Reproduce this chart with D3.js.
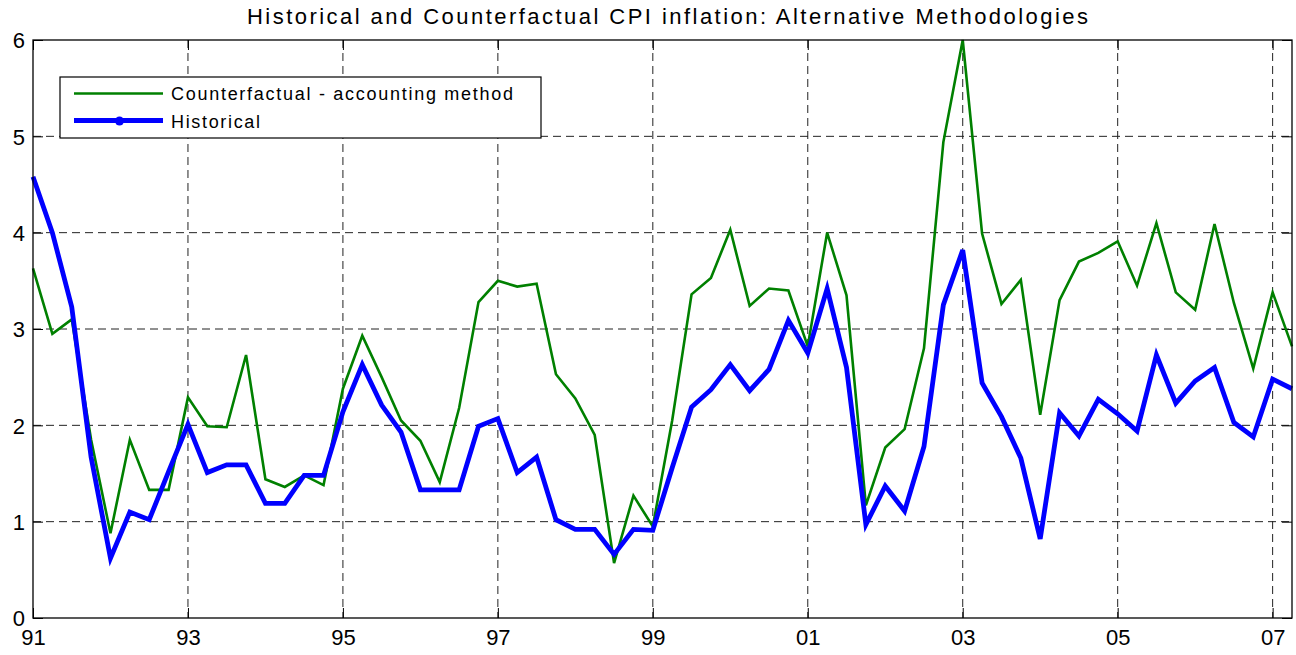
<!DOCTYPE html>
<html>
<head>
<meta charset="utf-8">
<script src="https://cdn.jsdelivr.net/npm/d3@7"></script>
<style>
  html, body { margin: 0; padding: 0; background: #fff; }
  svg { display: block; }
  text { font-family: "Liberation Sans", Arial, Helvetica, sans-serif; fill: #000; }
</style>
</head>
<body>
<svg id="chart" width="1296" height="655"></svg>
<script>
// Quarterly observations, 1991Q1 .. 2007Q2
const quarters = [
  "1991Q1","1991Q2","1991Q3","1991Q4",
  "1992Q1","1992Q2","1992Q3","1992Q4",
  "1993Q1","1993Q2","1993Q3","1993Q4",
  "1994Q1","1994Q2","1994Q3","1994Q4",
  "1995Q1","1995Q2","1995Q3","1995Q4",
  "1996Q1","1996Q2","1996Q3","1996Q4",
  "1997Q1","1997Q2","1997Q3","1997Q4",
  "1998Q1","1998Q2","1998Q3","1998Q4",
  "1999Q1","1999Q2","1999Q3","1999Q4",
  "2000Q1","2000Q2","2000Q3","2000Q4",
  "2001Q1","2001Q2","2001Q3","2001Q4",
  "2002Q1","2002Q2","2002Q3","2002Q4",
  "2003Q1","2003Q2","2003Q3","2003Q4",
  "2004Q1","2004Q2","2004Q3","2004Q4",
  "2005Q1","2005Q2","2005Q3","2005Q4",
  "2006Q1","2006Q2","2006Q3","2006Q4",
  "2007Q1","2007Q2"
];

const counterfactual = [
  3.63, 2.95, 3.10, 1.85,
  0.88, 1.85, 1.33, 1.33,
  2.29, 1.99, 1.98, 2.73,
  1.44, 1.36, 1.48, 1.38,
  2.38, 2.93, 2.50, 2.05,
  1.84, 1.41, 2.18, 3.28,
  3.50, 3.44, 3.47, 2.53,
  2.28, 1.90, 0.57, 1.27,
  0.95, 2.05, 3.36, 3.53,
  4.03, 3.24, 3.42, 3.40,
  2.82, 4.00, 3.35, 1.17,
  1.77, 1.96, 2.80, 4.94,
  6.00, 3.99, 3.26, 3.51,
  2.11, 3.30, 3.70, 3.79,
  3.91, 3.45, 4.10, 3.38,
  3.20, 4.09, 3.27, 2.59,
  3.38, 2.82
];

const historical = [
  4.58, 4.00, 3.23, 1.67,
  0.62, 1.10, 1.02, 1.52,
  2.01, 1.51, 1.59, 1.59,
  1.19, 1.19, 1.48, 1.48,
  2.14, 2.63, 2.21, 1.93,
  1.33, 1.33, 1.33, 1.99,
  2.07, 1.51, 1.67, 1.02,
  0.92, 0.92, 0.66, 0.92,
  0.91, 1.56, 2.19, 2.37,
  2.63, 2.36, 2.58, 3.09,
  2.75, 3.42, 2.60, 0.97,
  1.37, 1.11, 1.78, 3.25,
  3.82, 2.44, 2.09, 1.66,
  0.82, 2.13, 1.89, 2.27,
  2.12, 1.94, 2.73, 2.23,
  2.46, 2.60, 2.03, 1.88,
  2.48, 2.38
];

const xTickValues = [1991, 1993, 1995, 1997, 1999, 2001, 2003, 2005, 2007];
const xTickLabels = ["91", "93", "95", "97", "99", "01", "03", "05", "07"];
const yTickValues = [0, 1, 2, 3, 4, 5, 6];

const titleText = "Historical and Counterfactual CPI inflation: Alternative Methodologies";
const seriesNames = ["Counterfactual - accounting method", "Historical"];

// ---- layout ----
const plot = { left: 33, right: 1292, top: 40, bottom: 618 };
const svg = d3.select("#chart");

const toTime = q => +q.slice(0, 4) + (+q.slice(5) - 1) / 4;

const x = d3.scaleLinear().domain([1991, 2007.25]).range([plot.left, plot.right]);
const y = d3.scaleLinear().domain([0, 6]).range([plot.bottom, plot.top]);

// grid
const grid = svg.append("g");
grid.selectAll("line.vg").data(xTickValues.filter(v => v > 1991)).enter().append("line")
  .attr("x1", d => x(d)).attr("x2", d => x(d))
  .attr("y1", plot.top).attr("y2", plot.bottom)
  .attr("stroke", "#222").attr("stroke-width", 1).attr("stroke-dasharray", "8,5");
grid.selectAll("line.hg").data(yTickValues.filter(v => v > 0 && v < 6)).enter().append("line")
  .attr("x1", plot.left).attr("x2", plot.right)
  .attr("y1", d => y(d)).attr("y2", d => y(d))
  .attr("stroke", "#222").attr("stroke-width", 1).attr("stroke-dasharray", "8,5");

// axes (inner ticks) using d3 axes
const tickLen = 10;
const xAxisB = d3.axisBottom(x).tickValues(xTickValues).tickFormat((d, i) => xTickLabels[i])
  .tickSizeInner(-tickLen).tickSizeOuter(0);
const gxb = svg.append("g").attr("transform", `translate(0,${plot.bottom})`).call(xAxisB);
const xAxisT = d3.axisTop(x).tickValues(xTickValues).tickFormat("").tickSizeInner(-tickLen).tickSizeOuter(0);
const gxt = svg.append("g").attr("transform", `translate(0,${plot.top})`).call(xAxisT);

const yAxisL = d3.axisLeft(y).tickValues(yTickValues).tickFormat(d3.format("d"))
  .tickSizeInner(-tickLen).tickSizeOuter(0);
const gyl = svg.append("g").attr("transform", `translate(${plot.left},0)`).call(yAxisL);
const yAxisR = d3.axisRight(y).tickValues(yTickValues).tickFormat("").tickSizeInner(-tickLen).tickSizeOuter(0);
const gyr = svg.append("g").attr("transform", `translate(${plot.right},0)`).call(yAxisR);

[gxb, gxt, gyl, gyr].forEach(g => {
  g.attr("font-size", null);
  g.select(".domain").remove();
  g.selectAll(".tick line").attr("stroke", "#000").attr("stroke-width", 1);
  g.selectAll(".tick text").attr("fill", "#000")
    .style("font-size", "22px")
    .style("font-family", "'Liberation Sans', Arial, sans-serif");
});
gxb.selectAll(".tick text").attr("dy", null).attr("y", 27);
gyl.selectAll(".tick text").attr("x", -8).attr("dy", "0.36em");

// lines
const line = d3.line().x((d, i) => x(toTime(quarters[i]))).y(d => y(d));
svg.append("path").datum(counterfactual)
  .attr("d", line).attr("fill", "none").attr("stroke", "#008000").attr("stroke-width", 2.6);
svg.append("path").datum(historical)
  .attr("d", line).attr("fill", "none").attr("stroke", "#0000ff").attr("stroke-width", 4.8);

// box
svg.append("rect").attr("x", plot.left).attr("y", plot.top)
  .attr("width", plot.right - plot.left).attr("height", plot.bottom - plot.top)
  .attr("fill", "none").attr("stroke", "#000").attr("stroke-width", 1.3);

// title
svg.append("text").attr("x", 247).attr("y", 24)
  .style("font-size", "22px").attr("textLength", 841).attr("lengthAdjust", "spacing")
  .text(titleText);

// legend
const lg = svg.append("g");
lg.append("rect").attr("x", 60).attr("y", 77).attr("width", 481).attr("height", 61)
  .attr("fill", "#fff").attr("stroke", "#000").attr("stroke-width", 1.2);
lg.append("line").attr("x1", 74).attr("x2", 163).attr("y1", 93.5).attr("y2", 93.5)
  .attr("stroke", "#008000").attr("stroke-width", 2.6);
lg.append("line").attr("x1", 74).attr("x2", 163).attr("y1", 120.5).attr("y2", 120.5)
  .attr("stroke", "#0000ff").attr("stroke-width", 4.8);
lg.append("circle").attr("cx", 119.5).attr("cy", 121).attr("r", 4.5).attr("fill", "#0000ff");
lg.append("text").attr("x", 171).attr("y", 100).style("font-size", "18px")
  .attr("textLength", 342).attr("lengthAdjust", "spacing").text(seriesNames[0]);
lg.append("text").attr("x", 171).attr("y", 128).style("font-size", "18px")
  .attr("textLength", 89).attr("lengthAdjust", "spacing").text(seriesNames[1]);
</script>
</body>
</html>
